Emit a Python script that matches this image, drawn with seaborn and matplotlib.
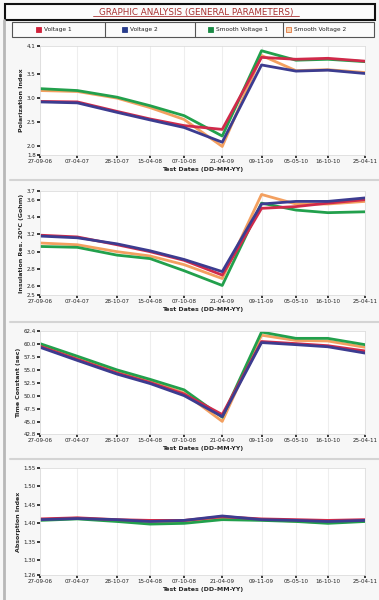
import pandas as pd
import matplotlib.pyplot as plt
import matplotlib.dates as mdates
from matplotlib.patches import Rectangle
from matplotlib.lines import Line2D
import seaborn as sns

# test dates (DD-MM-YY)
dates = ['27-09-06', '07-04-07', '28-10-07', '15-04-08', '07-10-08',
         '21-04-09', '09-11-09', '05-05-10', '16-10-10', '25-04-11']

legend_names = ['Voltage 1', 'Voltage 2', 'Smooth Voltage 1', 'Smooth Voltage 2']
draw_order = ['Smooth Voltage 2', 'Smooth Voltage 1', 'Voltage 1', 'Voltage 2']
line_colors = {'Voltage 1': '#d02a4a', 'Voltage 2': '#3c3c90',
               'Smooth Voltage 1': '#22a04c', 'Smooth Voltage 2': '#f3a060'}

# Polarization Index
pi_v1 = [2.93, 2.92, 2.72, 2.56, 2.42, 2.34, 3.86, 3.82, 3.84, 3.78]
pi_v2 = [2.92, 2.90, 2.70, 2.54, 2.38, 2.07, 3.70, 3.57, 3.59, 3.52]
pi_s1 = [3.20, 3.16, 3.02, 2.84, 2.63, 2.20, 4.00, 3.80, 3.82, 3.77]
pi_s2 = [3.16, 3.14, 3.00, 2.80, 2.55, 1.98, 3.90, 3.58, 3.60, 3.54]

# Insulation resistance at 20 C
ir_v1 = [3.19, 3.17, 3.08, 3.00, 2.90, 2.73, 3.50, 3.52, 3.56, 3.60]
ir_v2 = [3.18, 3.16, 3.09, 3.01, 2.91, 2.77, 3.55, 3.58, 3.58, 3.62]
ir_s1 = [3.06, 3.05, 2.96, 2.92, 2.78, 2.61, 3.56, 3.48, 3.45, 3.46]
ir_s2 = [3.10, 3.08, 3.00, 2.95, 2.85, 2.69, 3.66, 3.55, 3.55, 3.58]

# Time constant
tc_v1 = [59.5, 57.0, 54.4, 52.6, 50.4, 46.5, 60.4, 60.0, 59.6, 58.6]
tc_v2 = [59.3, 56.8, 54.2, 52.4, 50.1, 46.1, 60.2, 59.8, 59.4, 58.2]
tc_s1 = [60.0, 57.6, 55.0, 53.2, 51.2, 46.0, 62.2, 61.0, 61.0, 59.8]
tc_s2 = [59.8, 57.3, 54.7, 52.9, 50.6, 45.2, 61.6, 60.6, 60.5, 59.3]

# Absorption index
ai_v1 = [1.412, 1.415, 1.410, 1.408, 1.408, 1.418, 1.412, 1.410, 1.408, 1.410]
ai_v2 = [1.410, 1.413, 1.410, 1.405, 1.408, 1.420, 1.410, 1.408, 1.405, 1.408]
ai_s1 = [1.408, 1.412, 1.405, 1.398, 1.400, 1.410, 1.408, 1.405, 1.400, 1.405]
ai_s2 = [1.410, 1.414, 1.408, 1.402, 1.404, 1.414, 1.410, 1.406, 1.402, 1.407]

pi_ticks = [1.8, 2.0, 2.5, 3.0, 3.5, 4.1]
ir_ticks = [2.5, 2.6, 2.8, 3.0, 3.2, 3.4, 3.6, 3.7]
tc_ticks = [42.8, 45.0, 47.5, 50.0, 52.5, 55.0, 57.5, 60.0, 62.4]
ai_ticks = [1.26, 1.30, 1.35, 1.40, 1.45, 1.50, 1.55]

x = pd.to_datetime(dates, format='%d-%m-%y')


def long_df(v1, v2, s1, s2):
    parts = []
    for name, vals in zip(legend_names, [v1, v2, s1, s2]):
        parts.append(pd.DataFrame({'date': x, 'value': vals, 'series': name}))
    return pd.concat(parts, ignore_index=True)


panels = [
    (long_df(pi_v1, pi_v2, pi_s1, pi_s2), 'Polarization Index', pi_ticks, '%.1f', 155, 109),
    (long_df(ir_v1, ir_v2, ir_s1, ir_s2), 'Insulation Res. 20°C (Gohm)', ir_ticks, '%.1f', 295, 104),
    (long_df(tc_v1, tc_v2, tc_s1, tc_s2), 'Time Constant (sec)', tc_ticks, '%.1f', 434, 103),
    (long_df(ai_v1, ai_v2, ai_s1, ai_s2), 'Absorption Index', ai_ticks, '%.2f', 575, 107),
]

sns.set_theme(style='white')
plt.rcParams['font.family'] = ['DejaVu Sans']

W, H = 379, 600
fig = plt.figure(figsize=(W / 100, H / 100), dpi=100, facecolor='#f7f7f7')

for df, ylabel, ticks, fmt, bottom_px, height_px in panels:
    ax = fig.add_axes([40 / W, 1 - bottom_px / H, 325 / W, height_px / H])
    ax.set_facecolor('white')
    sns.lineplot(data=df, x='date', y='value', hue='series', hue_order=draw_order,
                 palette=line_colors, linewidth=2, legend=False, ax=ax)
    ax.set_xlim(x[0], x[-1])
    ax.set_ylim(ticks[0], ticks[-1])
    ax.set_yticks(ticks)
    ax.set_yticklabels([fmt % t for t in ticks])
    ax.set_xticks(x)
    ax.xaxis.set_major_formatter(mdates.DateFormatter('%d-%m-%y'))
    ax.set_xlabel('Test Dates (DD-MM-YY)', fontsize=4.5, fontweight='bold', labelpad=2)
    ax.set_ylabel(ylabel, fontsize=4.5, fontweight='bold', labelpad=2)
    ax.tick_params(labelsize=4, length=2, pad=1, left=True, bottom=True, colors='#222222')
    ax.grid(axis='x', color='#eeeeee', lw=0.8)
    for s in ax.spines.values():
        s.set_color('#dddddd')
        s.set_linewidth(0.6)

# panel separators and left border
for y in [180, 322, 459]:
    fig.add_artist(Line2D([10 / W, 1], [1 - y / H] * 2, color='#d4d4d4', lw=1.5))
fig.add_artist(Line2D([4 / W, 4 / W], [0, 1 - 20 / H], color='#b8b8b8', lw=2))

# title box
fig.add_artist(Rectangle((5 / W, 1 - 20 / H), 370 / W, 16 / H, transform=fig.transFigure,
                         facecolor='#fbfbfb', edgecolor='#111111', lw=1.5))
fig.text(196 / W, 1 - 12 / H, 'GRAPHIC ANALYSIS (GENERAL PARAMETERS)', color='#a83232',
         fontsize=6.3, ha='center', va='center')
fig.add_artist(Line2D([93 / W, 299 / W], [1 - 16 / H] * 2, color='#a83232', lw=0.6))

# legend row
fig.add_artist(Rectangle((12 / W, 1 - 37 / H), 362 / W, 15 / H, transform=fig.transFigure,
                         facecolor='#fbfbfb', edgecolor='#555555', lw=0.8))
for xd in [105, 195, 283]:
    fig.add_artist(Line2D([xd / W] * 2, [1 - 37 / H, 1 - 22 / H], color='#555555', lw=0.8))
marker_face = ['#d0213a', '#283c8c', '#1a8a45', '#f6d2b0']
marker_edge = ['#d0213a', '#283c8c', '#1a8a45', '#e07840']
for name, mx, fc, ec in zip(legend_names, [38, 124, 210, 288], marker_face, marker_edge):
    fig.add_artist(Rectangle(((mx - 2.5) / W, 1 - 32 / H), 5 / W, 5 / H,
                             transform=fig.transFigure, facecolor=fc, edgecolor=ec, lw=0.6))
    fig.text((mx + 6) / W, 1 - 29.5 / H, name, fontsize=4.2, ha='left', va='center',
             color='#222222')

fig.savefig('out.png', dpi=100, facecolor=fig.get_facecolor())
